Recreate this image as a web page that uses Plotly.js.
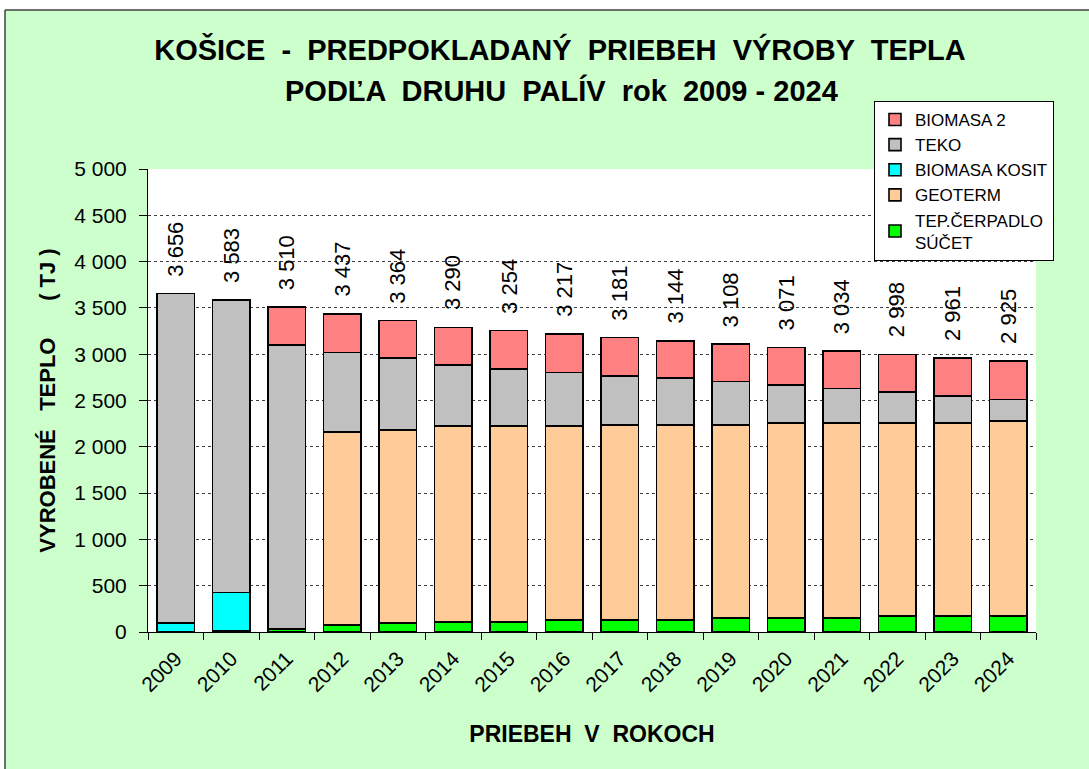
<!DOCTYPE html>
<html>
<head>
<meta charset="utf-8">
<script src="https://cdn.plot.ly/plotly-3.0.1.min.js"></script>
<style>html,body{margin:0;padding:0;background:#fff;}#chart{width:1089px;height:769px;}</style>
</head>
<body>
<div id="chart"></div>
<script>
const years = ['2009','2010','2011','2012','2013','2014','2015','2016','2017','2018','2019','2020','2021','2022','2023','2024'];
const tepCerpadlo = [0, 15, 35, 75, 95, 110, 110, 130, 130, 130, 150, 150, 150, 170, 170, 170];
const geoterm = [0, 0, 0, 2086, 2088, 2116, 2116, 2096, 2107, 2107, 2087, 2108, 2108, 2088, 2088, 2110];
const biomasaKosit = [100, 410, 0, 0, 0, 0, 0, 0, 0, 0, 0, 0, 0, 0, 0, 0];
const teko = [3556, 3158, 3062, 857, 777, 656, 617, 577, 527, 508, 469, 412, 370, 333, 290, 229];
const biomasa2 = [0, 0, 413, 419, 404, 408, 411, 414, 417, 399, 402, 401, 406, 407, 413, 416];
const totals = [3656, 3583, 3510, 3437, 3364, 3290, 3254, 3217, 3181, 3144, 3108, 3071, 3034, 2998, 2961, 2925];

const FONT = 'Liberation Sans, Arial, sans-serif';
const lineStyle = {color: '#000', width: 1.6};
function bar(name, vals, color) {
  return {type: 'bar', name: name, x: years, y: vals,
    marker: {color: color, line: lineStyle}, hoverinfo: 'skip'};
}
const traces = [
  bar('TEP.ČERPADLO<br>SÚČET', tepCerpadlo, '#00FF00'),
  bar('GEOTERM', geoterm, '#FFCC99'),
  bar('BIOMASA KOSIT', biomasaKosit, '#00FFFF'),
  bar('TEKO', teko, '#C0C0C0'),
  bar('BIOMASA 2', biomasa2, '#FF8080')
];

function fmt(v) { return String(v).replace(/\B(?=(\d{3})+(?!\d))/g, ' '); }

// plot area in pixels: x 148..1036, y 169..632
const L = 148, R = 1036, T = 169, B = 632;
const W = R - L, H = B - T;
const px = p => (p - L) / W;
const py = p => (B - p) / H;

const annotations = totals.map((t, i) => ({
  x: i, y: t, xref: 'x', yref: 'y',
  text: fmt(t), textangle: -90, showarrow: false,
  xanchor: 'center', yanchor: 'bottom', yshift: 15,
  font: {family: FONT, size: 22, color: '#000'}
}));
annotations.push({
  xref: 'paper', yref: 'paper', x: px(561), y: py(90),
  xanchor: 'center', yanchor: 'middle', showarrow: false,
  text: '<b>PODĽA  DRUHU  PALÍV  rok  2009 - 2024</b>',
  font: {family: FONT, size: 29, color: '#000'}
});

const layout = {
  width: 1089, height: 769,
  margin: {l: L, r: 1089 - R, t: T, b: 769 - B, pad: 0},
  paper_bgcolor: '#CCFFCC',
  plot_bgcolor: '#FFFFFF',
  separators: ', ',
  barmode: 'stack',
  bargap: 0.33,
  showlegend: true,
  title: {
    text: '<b>KOŠICE  -  PREDPOKLADANÝ  PRIEBEH  VÝROBY  TEPLA</b>',
    font: {family: FONT, size: 29, color: '#000'},
    xref: 'container', yref: 'container',
    x: 560 / 1089, xanchor: 'center',
    y: 1 - 50 / 769, yanchor: 'middle'
  },
  legend: {
    x: px(874), y: py(101), xanchor: 'left', yanchor: 'top',
    bgcolor: '#FFFFFF', bordercolor: '#000', borderwidth: 1,
    traceorder: 'reversed',
    font: {family: FONT, size: 17, color: '#000'},
    tracegroupgap: 0
  },
  xaxis: {
    type: 'category',
    range: [-0.5, years.length - 0.5],
    autorange: false,
    tickson: 'boundaries',
    ticks: 'outside', ticklen: 7, tickcolor: '#000', tickwidth: 1,
    tickangle: -45,
    tickfont: {family: FONT, size: 21, color: '#000'},
    ticklabelstandoff: 5,
    showline: true, linecolor: '#000', linewidth: 1,
    showgrid: false, zeroline: false,
    title: {text: '<b>PRIEBEH  V  ROKOCH</b>', font: {family: FONT, size: 23, color: '#000'}, standoff: 30}
  },
  yaxis: {
    range: [0, 5000], autorange: false, dtick: 500, tick0: 0,
    tickformat: ',d',
    ticks: 'outside', ticklen: 8, tickcolor: '#000', tickwidth: 1,
    tickfont: {family: FONT, size: 21, color: '#000'},
    ticklabelstandoff: 8,
    showline: true, linecolor: '#000', linewidth: 1,
    showgrid: true, gridcolor: '#404040', gridwidth: 1, griddash: '3px,3px',
    zeroline: false,
    title: {text: '<b>VYROBENÉ\u00A0\u00A0 TEPLO\u00A0\u00A0\u00A0\u00A0\u00A0 ( TJ )</b>', font: {family: FONT, size: 22, color: '#000'}, standoff: 12}
  },
  shapes: [
    {type: 'rect', xref: 'paper', yref: 'paper', x0: -1, x1: 2, y0: py(10), y1: 3, fillcolor: '#FFFFFF', line: {width: 0}, layer: 'below'},
    {type: 'rect', xref: 'paper', yref: 'paper', x0: -1, x1: px(5), y0: -1, y1: 3, fillcolor: '#FFFFFF', line: {width: 0}, layer: 'below'},
    {type: 'line', xref: 'paper', yref: 'paper', x0: px(5), x1: 2, y0: py(10), y1: py(10), line: {color: '#404040', width: 1.5}},
    {type: 'line', xref: 'paper', yref: 'paper', x0: px(5), x1: px(5), y0: py(10), y1: -1, line: {color: '#404040', width: 1.5}}
  ],
  annotations: annotations
};

Plotly.newPlot('chart', traces, layout, {displayModeBar: false, staticPlot: true});
</script>
</body>
</html>
